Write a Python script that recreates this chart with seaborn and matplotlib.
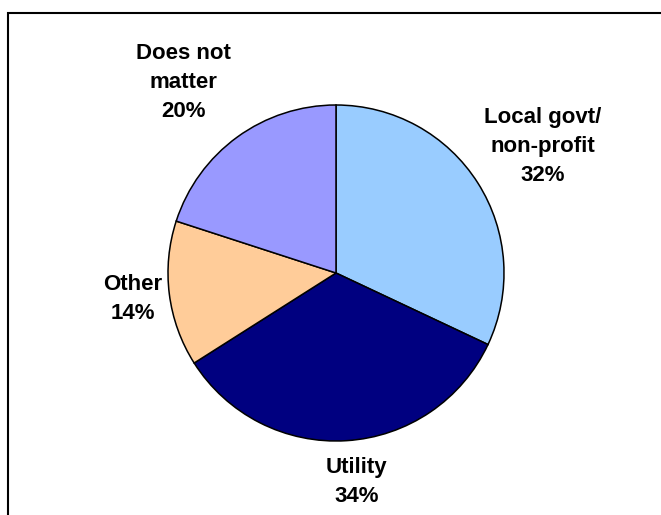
import matplotlib
matplotlib.use("Agg")
import matplotlib.pyplot as plt
from matplotlib.patches import Rectangle
import numpy as np
import seaborn as sns

# Share of respondents by preferred provider type
categories = ["Local govt/\nnon-profit", "Utility", "Other", "Does not\nmatter"]
shares = [32, 34, 14, 20]
colors = ["#99CCFF", "#000080", "#FFCC99", "#9999FF"]
# label placement: radial distance (pie radii) and angular nudge (degrees)
label_dist = [1.44, 1.25, 1.22, 1.45]
label_nudge = [-1.0, 2.0, 0.0, 2.7]

sns.set_theme(style="white")
plt.rcParams["font.family"] = ["Liberation Sans", "DejaVu Sans"]

W, H, DPI = 661, 515, 100
fig = plt.figure(figsize=(W / DPI, H / DPI), dpi=DPI)
fig.patch.set_facecolor("white")

# pie geometry in pixels
cx, cy, r_px = 336, 273, 168
side = 480
lim = side / (2 * r_px)
ax = fig.add_axes([(cx - side / 2) / W, (H - cy - side / 2) / H, side / W, side / H])

wedges, _ = ax.pie(
    shares,
    colors=sns.color_palette(colors),
    startangle=90,
    counterclock=False,
    radius=1.0,
    wedgeprops=dict(edgecolor="black", linewidth=1.1),
)
ax.set_xlim(-lim, lim)
ax.set_ylim(-lim, lim)
ax.set_aspect("equal")
ax.axis("off")

for w, name, val, d, nd in zip(wedges, categories, shares, label_dist, label_nudge):
    ang = np.deg2rad((w.theta1 + w.theta2) / 2 + nd)
    ax.text(d * np.cos(ang), d * np.sin(ang), f"{name}\n{val}%",
            ha="center", va="center", fontsize=16, fontweight="bold",
            color="black", linespacing=1.5)

# chart frame
fig.add_artist(Rectangle((8 / W, -0.1), 1.2, (H - 13) / H + 0.1,
                         transform=fig.transFigure, fill=False,
                         edgecolor="black", linewidth=1.5))

fig.savefig("out.png", dpi=DPI, facecolor="white")
